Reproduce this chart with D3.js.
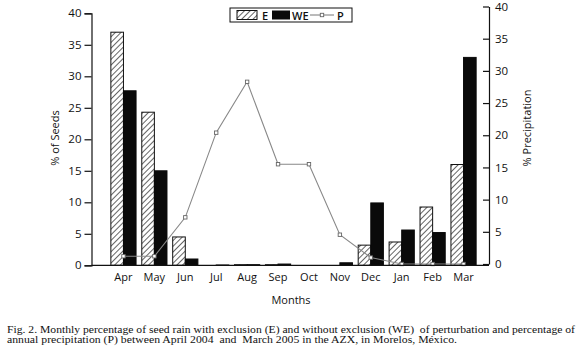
<!DOCTYPE html>
<html>
<head>
<meta charset="utf-8">
<script src="https://cdn.jsdelivr.net/npm/d3@7"></script>
<style>
  body { margin: 0; background: #fff; }
  svg { display: block; }
</style>
</head>
<body>
<script>
var width = 580,
    height = 355;

// data
var months = ["Apr", "May", "Jun", "Jul", "Aug", "Sep", "Oct", "Nov", "Dec", "Jan", "Feb", "Mar"];
var seedsE  = [37.0, 24.3, 4.5, 0, 0.1, 0.1, 0, 0, 3.2, 3.7, 9.25, 16.0];
var seedsWE = [27.7, 15.0, 1.0, 0.05, 0.1, 0.2, 0, 0.4, 9.9, 5.6, 5.2, 33.0];
var precip  = [1.2, 1.2, 7.25, 20.4, 28.3, 15.5, 15.5, 4.55, 1.0, 0, 0, 0];
var leftTicks = [0, 5, 10, 15, 20, 25, 30, 35, 40];
var rightTicks = [0, 5, 10, 15, 20, 25, 30, 35, 40];

var sans = "'Open Sans', 'DejaVu Sans', sans-serif";
var serif = "'Liberation Serif', 'DejaVu Serif', serif";

var svg = d3.select("body").append("svg")
    .attr("width", width)
    .attr("height", height);

svg.append("rect").attr("width", width).attr("height", height).attr("fill", "#fff");

// hatch for E
var defs = svg.append("defs");
var pat = defs.append("pattern")
    .attr("id", "hatch")
    .attr("patternUnits", "userSpaceOnUse")
    .attr("width", 4)
    .attr("height", 4)
    .attr("patternTransform", "rotate(45)");
pat.append("rect").attr("width", 4).attr("height", 4).attr("fill", "#fff");
pat.append("line")
    .attr("x1", 0).attr("y1", 0).attr("x2", 0).attr("y2", 4)
    .attr("stroke", "#111").attr("stroke-width", 1.3);

var x = d3.scaleBand()
    .domain(months)
    .range([108, 479]);

var sub = d3.scaleBand()
    .domain(["E", "WE"])
    .range([-12.6, 12.6]);

var yL = d3.scaleLinear().domain([0, 40]).range([265.3, 13.3]);
var yR = d3.scaleLinear().domain([0, 40]).range([264, 6.5]);

// bars
var bars = svg.append("g");
bars.selectAll("rect.e")
  .data(months)
  .enter().append("rect")
    .attr("class", "e")
    .attr("x", function(d) { return x(d) + x.bandwidth() / 2 + sub("E"); })
    .attr("y", function(d, i) { return yL(seedsE[i]); })
    .attr("width", sub.bandwidth())
    .attr("height", function(d, i) { return yL(0) - yL(seedsE[i]); })
    .attr("fill", "url(#hatch)")
    .attr("stroke", function(d, i) { return seedsE[i] > 0 ? "#111" : "none"; })
    .attr("stroke-width", 1);

bars.selectAll("rect.we")
  .data(months)
  .enter().append("rect")
    .attr("class", "we")
    .attr("x", function(d) { return x(d) + x.bandwidth() / 2 + sub("WE"); })
    .attr("y", function(d, i) { return yL(seedsWE[i]); })
    .attr("width", sub.bandwidth())
    .attr("height", function(d, i) { return yL(0) - yL(seedsWE[i]); })
    .attr("fill", "#0a0a0a")
    .attr("stroke", function(d, i) { return seedsWE[i] > 0 ? "#0a0a0a" : "none"; })
    .attr("stroke-width", 1);

// precipitation line
var line = d3.line()
    .x(function(d, i) { return x(months[i]) + x.bandwidth() / 2; })
    .y(function(d) { return yR(d); });

svg.append("path")
    .datum(precip)
    .attr("d", line)
    .attr("fill", "none")
    .attr("stroke", "#888")
    .attr("stroke-width", 1.1);

svg.selectAll("rect.pt")
  .data(precip)
  .enter().append("rect")
    .attr("class", "pt")
    .attr("x", function(d, i) { return x(months[i]) + x.bandwidth() / 2 - 1.7; })
    .attr("y", function(d) { return yR(d) - 1.7; })
    .attr("width", 3.4)
    .attr("height", 3.4)
    .attr("fill", "#fff")
    .attr("stroke", "#666")
    .attr("stroke-width", 0.9);

// axes
var leftAxis = d3.axisLeft(yL).tickValues(leftTicks).tickSize(7).tickPadding(3);
var gL = svg.append("g").attr("transform", "translate(91.5,0)").call(leftAxis);

var rightAxis = d3.axisRight(yR).tickValues(rightTicks).tickSize(0).tickPadding(6);
var gR = svg.append("g").attr("transform", "translate(489,0)").call(rightAxis);
gR.selectAll(".tick").append("line")
    .attr("x1", -6).attr("x2", 0)
    .attr("stroke", "#111");

[gL, gR].forEach(function(g) {
  g.select(".domain").attr("stroke", "#111").attr("stroke-width", 1.2);
  g.selectAll(".tick line").attr("stroke", "#111").attr("stroke-width", 1.2);
  g.selectAll("text")
    .attr("font-family", sans)
    .attr("font-size", 11.5)
    .attr("fill", "#111");
});

// baseline
svg.append("line")
    .attr("x1", 91.5).attr("x2", 489)
    .attr("y1", 265.3).attr("y2", 265.3)
    .attr("stroke", "#111").attr("stroke-width", 1.3);

var bottomAxis = d3.axisBottom(x).tickSize(0).tickPadding(7);
var gB = svg.append("g").attr("transform", "translate(0,266)").call(bottomAxis);
gB.select(".domain").remove();
gB.selectAll("text")
    .attr("font-family", sans)
    .attr("font-size", 11)
    .attr("fill", "#111");

// axis titles
svg.append("text")
    .attr("transform", "translate(59,138) rotate(-90)")
    .attr("text-anchor", "middle")
    .attr("font-family", sans)
    .attr("font-size", 11)
    .attr("fill", "#111")
    .text("% of Seeds");

svg.append("text")
    .attr("transform", "translate(531,128) rotate(-90)")
    .attr("text-anchor", "middle")
    .attr("font-family", sans)
    .attr("font-size", 11)
    .attr("fill", "#111")
    .text("% Precipitation");

svg.append("text")
    .attr("x", 291)
    .attr("y", 304)
    .attr("text-anchor", "middle")
    .attr("font-family", sans)
    .attr("font-size", 11)
    .attr("fill", "#111")
    .text("Months");

// legend
var lg = svg.append("g");
lg.append("rect")
    .attr("x", 230).attr("y", 8)
    .attr("width", 122).attr("height", 14)
    .attr("fill", "#fff").attr("stroke", "#111").attr("stroke-width", 1);
lg.append("rect")
    .attr("x", 237).attr("y", 10.5)
    .attr("width", 20).attr("height", 9)
    .attr("fill", "url(#hatch)").attr("stroke", "#111");
lg.append("text")
    .attr("x", 262).attr("y", 19.5)
    .attr("font-family", sans).attr("font-size", 11).attr("font-weight", 600)
    .attr("fill", "#111").text("E");
lg.append("rect")
    .attr("x", 272).attr("y", 10.5)
    .attr("width", 18).attr("height", 9)
    .attr("fill", "#0a0a0a");
lg.append("text")
    .attr("x", 292).attr("y", 19.5)
    .attr("font-family", sans).attr("font-size", 11).attr("font-weight", 600)
    .attr("fill", "#111").text("WE");
lg.append("line")
    .attr("x1", 310).attr("x2", 334).attr("y1", 15).attr("y2", 15)
    .attr("stroke", "#777").attr("stroke-width", 1);
lg.append("rect")
    .attr("x", 320.3).attr("y", 13.3)
    .attr("width", 3.4).attr("height", 3.4)
    .attr("fill", "#fff").attr("stroke", "#666").attr("stroke-width", 0.9);
lg.append("text")
    .attr("x", 337).attr("y", 19.5)
    .attr("font-family", sans).attr("font-size", 11).attr("font-weight", 600)
    .attr("fill", "#111").text("P");

// caption
var cap1 = svg.append("text")
    .attr("x", 7).attr("y", 332.5)
    .attr("font-family", serif).attr("font-size", 11)
    .attr("fill", "#111")
    .style("white-space", "pre")
    .text("Fig. 2. Monthly percentage of seed rain with exclusion (E) and without exclusion (WE)  of perturbation and percentage of");
var cap2 = svg.append("text")
    .attr("x", 7).attr("y", 343)
    .attr("font-family", serif).attr("font-size", 11)
    .attr("fill", "#111")
    .style("white-space", "pre")
    .text("annual precipitation (P) between April 2004  and  March 2005 in the AZX, in Morelos, México.");

cap1.attr("textLength", 568).attr("lengthAdjust", "spacingAndGlyphs");
cap2.attr("textLength", 450).attr("lengthAdjust", "spacingAndGlyphs");
</script>
</body>
</html>
